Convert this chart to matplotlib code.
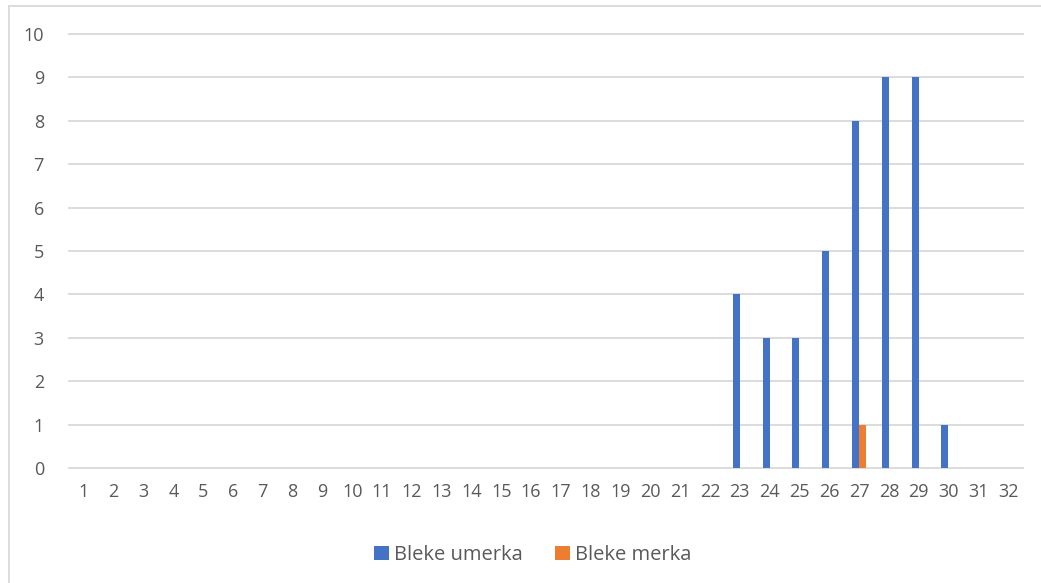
import numpy as np
import matplotlib.pyplot as plt
from matplotlib.lines import Line2D

plt.rcParams['font.family'] = ['Open Sans', 'DejaVu Sans']

# data
days = [str(d) for d in range(1, 33)]
umerka = [0] * 22 + [4, 3, 3, 5, 8, 9, 9, 1, 0, 0]
merka = [0] * 26 + [1, 0, 0, 0, 0, 0]
yticks = list(range(0, 11))

W, H = 1041, 583
fig = plt.figure(figsize=(W / 100, H / 100), dpi=100)
ax = fig.add_axes([69 / W, 115 / H, (1023 - 69) / W, (549 - 115) / H])

x = np.arange(len(days))
bw = 0.235
ax.bar(x - bw / 2, umerka, bw, color='#4472C4', label='Bleke umerka', zorder=3)
ax.bar(x + bw / 2, merka, bw, color='#ED7D31', label='Bleke merka', zorder=3)

ax.set_xlim(-0.5, len(days) - 0.5)
ax.set_ylim(0, 10)
ax.set_yticks(yticks)
ax.set_xticks(x)
ax.set_xticklabels(days)
for sp in ax.spines.values():
    sp.set_visible(False)
ax.grid(axis='y', color='#D9D9D9', linewidth=1.3, zorder=0)
for gl in ax.get_ygridlines():
    gl.set_clip_on(False)
ax.tick_params(length=0, colors='#595959', labelsize=13)
ax.tick_params(axis='y', pad=18)
ax.tick_params(axis='x', pad=11)

ax.legend(loc='center', bbox_to_anchor=(533 / W, 1 - 555 / H), bbox_transform=fig.transFigure,
          ncol=2, frameon=False, fontsize=14.5, labelcolor='#595959',
          handlelength=0.75, handleheight=0.75, handletextpad=0.25, columnspacing=1.6)

# chart border (cropped at right and bottom)
fig.add_artist(Line2D([8.5 / W, 1], [1 - 5.5 / H, 1 - 5.5 / H], transform=fig.transFigure,
                      color='#D9D9D9', linewidth=1.3))
fig.add_artist(Line2D([8.5 / W, 8.5 / W], [0, 1 - 5.5 / H], transform=fig.transFigure,
                      color='#D9D9D9', linewidth=1.3))

fig.savefig('out.png', dpi=100)
